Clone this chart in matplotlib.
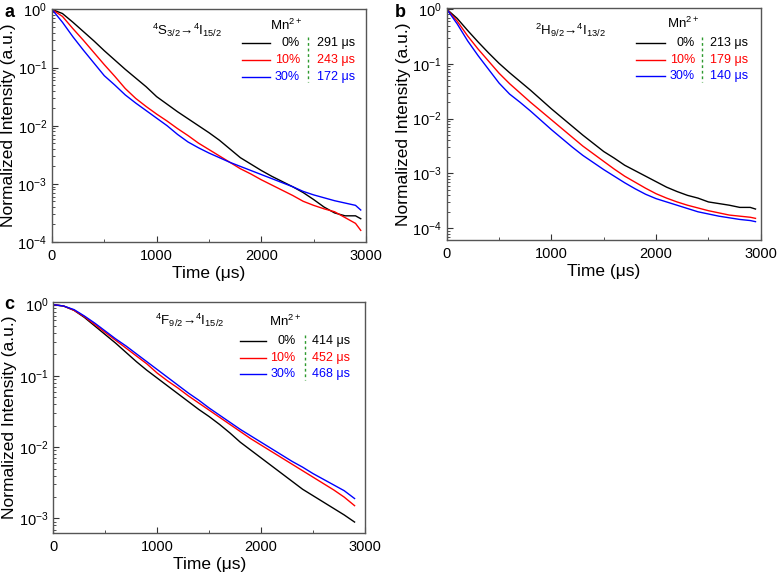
import matplotlib
matplotlib.use("Agg")
import matplotlib.pyplot as plt
import numpy as np

plt.rcParams['font.family'] = ['Liberation Sans', 'DejaVu Sans']
plt.rcParams['mathtext.fontset'] = 'custom'
plt.rcParams['mathtext.rm'] = 'Liberation Sans'
plt.rcParams['mathtext.it'] = 'Liberation Sans:italic'
plt.rcParams['mathtext.bf'] = 'Liberation Sans:bold'

# time axis (µs)
t_ab = list(range(0, 3000, 100)) + [2950]
t_c = list(range(0, 3000, 100))

# log10 of normalized intensity
# (a) 4S3/2 -> 4I15/2
a_0 = [0, -0.07, -0.22, -0.38, -0.54, -0.71, -0.87, -1.03, -1.18, -1.33, -1.50, -1.63, -1.76, -1.88,
       -2.00, -2.12, -2.25, -2.40, -2.55, -2.66, -2.77, -2.87, -2.96, -3.05, -3.15, -3.27, -3.40,
       -3.50, -3.55, -3.55, -3.60]
a_10 = [0, -0.12, -0.33, -0.53, -0.74, -0.95, -1.15, -1.36, -1.53, -1.67, -1.80, -1.92, -2.05, -2.17,
        -2.30, -2.41, -2.52, -2.63, -2.74, -2.83, -2.93, -3.02, -3.11, -3.20, -3.30, -3.37, -3.43,
        -3.48, -3.58, -3.68, -3.80]
a_30 = [0, -0.22, -0.47, -0.70, -0.92, -1.14, -1.30, -1.47, -1.61, -1.74, -1.87, -2.00, -2.15, -2.28,
        -2.38, -2.47, -2.55, -2.63, -2.70, -2.77, -2.84, -2.91, -2.98, -3.05, -3.13, -3.19, -3.24,
        -3.29, -3.33, -3.37, -3.45]
# (b) 2H9/2 -> 4I13/2
b_0 = [0, -0.17, -0.39, -0.60, -0.80, -0.99, -1.16, -1.32, -1.48, -1.65, -1.82, -1.98, -2.14, -2.30,
       -2.45, -2.60, -2.72, -2.85, -2.95, -3.05, -3.15, -3.25, -3.33, -3.40, -3.45, -3.52, -3.55,
       -3.58, -3.62, -3.62, -3.65]
b_10 = [0, -0.22, -0.49, -0.73, -0.95, -1.17, -1.36, -1.53, -1.70, -1.86, -2.02, -2.18, -2.34, -2.50,
        -2.64, -2.78, -2.92, -3.05, -3.16, -3.27, -3.37, -3.45, -3.52, -3.58, -3.63, -3.68, -3.72,
        -3.76, -3.78, -3.80, -3.82]
b_30 = [0, -0.27, -0.58, -0.85, -1.10, -1.35, -1.55, -1.70, -1.86, -2.03, -2.20, -2.36, -2.52, -2.67,
        -2.80, -2.93, -3.05, -3.17, -3.28, -3.38, -3.46, -3.52, -3.58, -3.64, -3.70, -3.74, -3.78,
        -3.81, -3.84, -3.86, -3.88]
# (c) 4F9/2 -> 4I15/2
c_0 = [0, -0.02, -0.08, -0.18, -0.30, -0.42, -0.54, -0.67, -0.80, -0.92, -1.03, -1.14, -1.25, -1.36,
       -1.47, -1.57, -1.68, -1.80, -1.93, -2.04, -2.15, -2.26, -2.37, -2.48, -2.59, -2.68, -2.77,
       -2.86, -2.95, -3.05]
c_10 = [0, -0.02, -0.08, -0.17, -0.28, -0.39, -0.50, -0.61, -0.72, -0.83, -0.96, -1.07, -1.17, -1.28,
        -1.38, -1.48, -1.58, -1.68, -1.78, -1.88, -1.97, -2.06, -2.15, -2.24, -2.33, -2.42, -2.51,
        -2.60, -2.70, -2.82]
c_30 = [0, -0.02, -0.07, -0.16, -0.26, -0.37, -0.48, -0.58, -0.69, -0.80, -0.91, -1.02, -1.13, -1.24,
        -1.34, -1.45, -1.55, -1.65, -1.75, -1.84, -1.93, -2.02, -2.11, -2.20, -2.28, -2.37, -2.45,
        -2.53, -2.61, -2.72]

conc = ['0%', '10%', '30%']
colors = ['black', '#ff0000', '#0000ff']
life_a = ['291 μs', '243 μs', '172 μs']
life_b = ['213 μs', '179 μs', '140 μs']
life_c = ['414 μs', '452 μs', '468 μs']
trans_a = r'$^4$S$_{3/2}$→$^4$I$_{15/2}$'
trans_b = r'$^2$H$_{9/2}$→$^4$I$_{13/2}$'
trans_c = r'$^4$F$_{9/2}$→$^4$I$_{15/2}$'

fig = plt.figure(figsize=(7.78, 5.73), dpi=100)

panels = [
    dict(rect=[0.0668, 0.5777, 0.4036, 0.4058], letter=('a', 0.006, 0.978), t=t_ab,
         data=[a_0, a_10, a_30], life=life_a, trans=trans_a, trans_xy=(0.43, 0.912),
         ylim=(1e-4, 1.0), ticks=[1e0, 1e-1, 1e-2, 1e-3, 1e-4],
         lx=(0.604, 0.695, 0.790, 0.816, 0.843), ly=(0.855, 0.783, 0.711), mn=(0.745, 0.933)),
    dict(rect=[0.5742, 0.5812, 0.4036, 0.4049], letter=('b', 0.508, 0.978), t=t_ab,
         data=[b_0, b_10, b_30], life=life_b, trans=trans_b, trans_xy=(0.393, 0.905),
         ylim=(6.1e-5, 1.05), ticks=[1e0, 1e-1, 1e-2, 1e-3, 1e-4],
         lx=(0.603, 0.695, 0.791, 0.812, 0.839), ly=(0.848, 0.776, 0.707), mn=(0.754, 0.934)),
    dict(rect=[0.0685, 0.0693, 0.4006, 0.4042], letter=('c', 0.006, 0.468), t=t_c,
         data=[c_0, c_10, c_30], life=life_c, trans=trans_c, trans_xy=(0.439, 0.921),
         ylim=(6.2e-4, 1.1), ticks=[1e0, 1e-1, 1e-2, 1e-3],
         lx=(0.599, 0.684, 0.777, 0.808, 0.831), ly=(0.829, 0.757, 0.688), mn=(0.743, 0.915)),
]

for p in panels:
    ax = fig.add_axes(p['rect'])
    for y, col in zip(p['data'], colors):
        ax.plot(p['t'], 10 ** np.array(y), color=col, lw=1.0)
    ax.set_yscale('log')
    ax.set_xlim(0, 3000)
    ax.set_ylim(*p['ylim'])
    ax.set_yticks(p['ticks'])
    ax.set_xticks([0, 1000, 2000, 3000])
    ax.set_xticks([500, 1500, 2500], minor=True)
    ax.tick_params(direction='in', which='both', labelsize=10.5, colors='#333333',
                   labelcolor='black')
    ax.tick_params(which='major', length=4)
    ax.tick_params(which='minor', length=2)
    ax.tick_params(axis='x', pad=5)
    for s in ax.spines.values():
        s.set_color('#555555')
        s.set_linewidth(1.0)
    ax.set_xlabel('Time (μs)', fontsize=12.5, labelpad=2)
    ax.set_ylabel('Normalized Intensity (a.u.)', fontsize=12.5, labelpad=1)

    ax.text(*p['trans_xy'], p['trans'], transform=ax.transAxes, ha='center', va='center',
            fontsize=9.5)
    ax.text(*p['mn'], r'$\mathrm{Mn}^{2+}$', transform=ax.transAxes, ha='center', va='center',
            fontsize=9.5)
    x0, x1, xp, xd, xl = p['lx']
    for yy, lab, col, life in zip(p['ly'], conc, colors, p['life']):
        ax.plot([x0, x1], [yy, yy], color=col, lw=1.0, transform=ax.transAxes)
        ax.text(xp, yy, lab, color=col, transform=ax.transAxes, ha='right', va='center',
                fontsize=9)
        ax.text(xl, yy, life, color=col, transform=ax.transAxes, ha='left', va='center',
                fontsize=9)
    ax.plot([xd, xd], [p['ly'][0] + 0.025, p['ly'][2] - 0.025], color='#2e9a2e', lw=1.0,
            ls=(0, (2, 2)), transform=ax.transAxes)

    fig.text(p['letter'][1], p['letter'][2], p['letter'][0], fontsize=13, fontweight='bold',
             ha='left', va='center')

fig.savefig('out.png', dpi=100)
